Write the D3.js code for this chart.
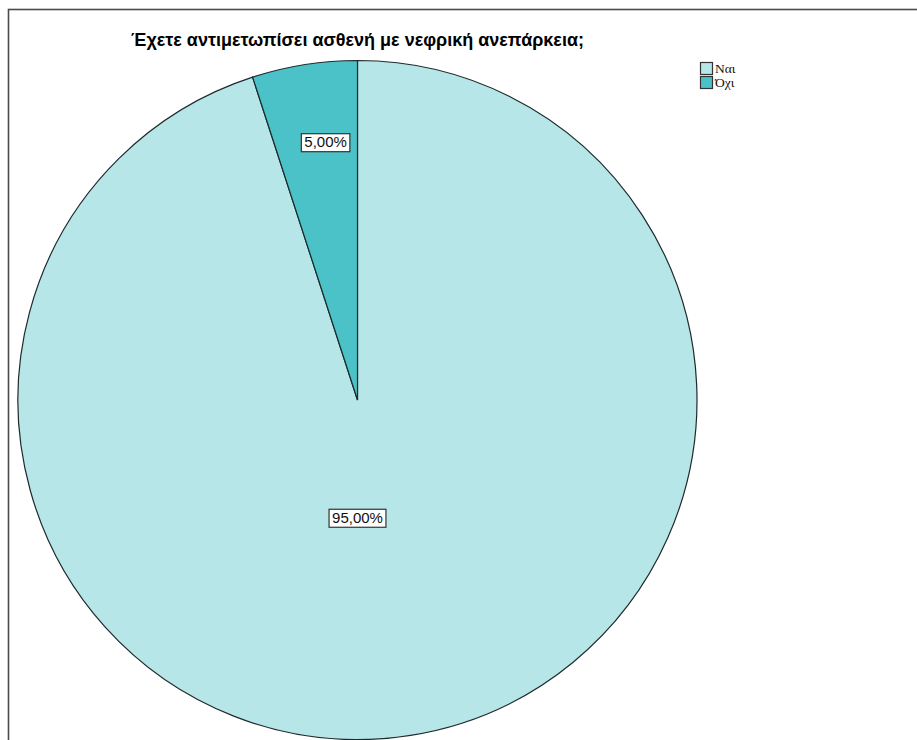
<!DOCTYPE html>
<html>
<head>
<meta charset="utf-8">
<script src="https://cdn.jsdelivr.net/npm/d3@7"></script>
<style>
  body { margin: 0; background: #fff; }
  svg { display: block; }
</style>
</head>
<body>
<div id="chart"></div>
<script>
// data
const categories = ['Ναι', 'Όχι'];
const values = [95, 5];
const colors = ['#b6e6e8', '#4bc2c7'];
const title = 'Έχετε αντιμετωπίσει ασθενή με νεφρική ανεπάρκεια;';

const width = 917;
const height = 740;
const cx = 357.5, cy = 400, radius = 339.5;

const svg = d3.select('#chart').append('svg')
  .attr('width', width)
  .attr('height', height);

// outer frame (runs off the right and bottom edges)
svg.append('rect')
  .attr('x', 8.5).attr('y', 9.5)
  .attr('width', 1000).attr('height', 1000)
  .attr('fill', '#fff')
  .attr('stroke', '#4a4a4a')
  .attr('stroke-width', 1.6);

svg.append('text')
  .attr('x', cx)
  .attr('y', 46)
  .attr('text-anchor', 'middle')
  .attr('font-family', 'Liberation Sans, Arial, sans-serif')
  .attr('font-size', 18)
  .attr('font-weight', 'bold')
  .attr('fill', '#000')
  .text(title);

const data = categories.map((c, i) => ({ cat: c, value: values[i], color: colors[i] }));

const pie = d3.pie().sort(null).value((d) => d.value);
const arc = d3.arc().innerRadius(0).outerRadius(radius);
const arcs = pie(data);

const g = svg.append('g').attr('transform', `translate(${cx},${cy})`);

g.selectAll('path')
  .data(arcs)
  .join('path')
  .attr('d', arc)
  .attr('fill', (d) => d.data.color)
  .attr('stroke', '#1e2a2c')
  .attr('stroke-width', 1.2);

// labels: large slice near centre, small slice near rim
const isBig = (d) => d.endAngle - d.startAngle > Math.PI;
const labels = g.selectAll('g.lbl')
  .data(arcs)
  .join('g')
  .attr('class', 'lbl')
  .attr('transform', (d) => {
    const a = (d.startAngle + d.endAngle) / 2;
    const r = (isBig(d) ? 0.35 : 0.77) * radius;
    const x = isBig(d) ? 0 : r * Math.sin(a) * 0.78;
    return `translate(${x},${-r * Math.cos(a)})`;
  });

labels.each(function (d) {
  const sel = d3.select(this);
  const txt = sel.append('text')
    .attr('text-anchor', 'middle')
    .attr('dy', '0.36em')
    .attr('font-family', 'Liberation Sans, Arial, sans-serif')
    .attr('font-size', 15)
    .attr('fill', '#111')
    .text(d3.format('.2f')(d.data.value).replace('.', ',') + '%');
  const bb = txt.node().getBBox();
  sel.insert('rect', 'text')
    .attr('x', bb.x - 3)
    .attr('y', bb.y + 0.5)
    .attr('width', bb.width + 6)
    .attr('height', bb.height + 1)
    .attr('fill', '#fff')
    .attr('stroke', '#333')
    .attr('stroke-width', 1.2);
});

// legend
const legend = svg.append('g').attr('transform', 'translate(700,62)');
const items = legend.selectAll('g')
  .data(data)
  .join('g')
  .attr('transform', (d, i) => `translate(0,${i * 14})`);
items.append('rect')
  .attr('x', 0.5).attr('y', 0.5)
  .attr('width', 12).attr('height', 12)
  .attr('fill', (d) => d.color)
  .attr('stroke', '#333')
  .attr('stroke-width', 1.2);
items.append('text')
  .attr('x', 15)
  .attr('y', 11)
  .attr('font-family', 'Liberation Serif, Times New Roman, serif')
  .attr('font-size', 13.5)
  .attr('fill', '#111')
  .text((d) => d.cat);
</script>
</body>
</html>
